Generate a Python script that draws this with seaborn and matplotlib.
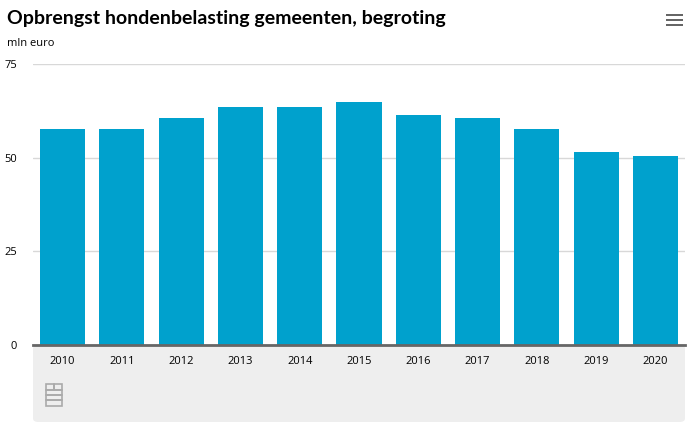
import matplotlib
matplotlib.use("Agg")
import matplotlib.pyplot as plt
import seaborn as sns
import pandas as pd
from matplotlib.patches import FancyBboxPatch, Rectangle

# data
years = ["2010", "2011", "2012", "2013", "2014", "2015", "2016", "2017", "2018", "2019", "2020"]
revenue = [57.8, 57.8, 60.7, 63.6, 63.6, 64.9, 61.5, 60.7, 57.8, 51.7, 50.6]
y_ticks = [0, 25, 50, 75]

df = pd.DataFrame({"jaar": years, "opbrengst": revenue})

sns.set_style("white")
plt.rcParams["font.family"] = ["Open Sans", "DejaVu Sans"]

W, H = 693, 447
fig = plt.figure(figsize=(W / 100, H / 100), dpi=100)

# grey footer panel under the axis
panel = FancyBboxPatch((33 / W, (H - 422) / H), (685 - 33) / W, (422 - 345) / H,
                       boxstyle="round,pad=0,rounding_size=0.008",
                       transform=fig.transFigure, facecolor="#eeeeee",
                       edgecolor="none", zorder=-1)
fig.patches.append(panel)

ax = fig.add_axes([33 / W, (H - 345) / H, (685 - 33) / W, (345 - 64.3) / H])
ax.set_facecolor("none")
ax.set_zorder(2)

sns.barplot(data=df, x="jaar", y="opbrengst", color="#00a1cd", width=0.76,
            saturation=1, edgecolor="#00a1cd", linewidth=0, ax=ax, zorder=3)

ax.set_ylim(0, 75)
ax.set_xlim(-0.5, len(years) - 0.5)
ax.set_yticks(y_ticks)
ax.set_yticklabels([str(t) for t in y_ticks], fontsize=8, color="#000000")
ax.tick_params(axis="y", length=0, pad=11.5)
ax.tick_params(axis="x", length=0, pad=8, labelsize=8, labelcolor="#000000")
ax.set_xlabel("")
ax.set_ylabel("")
ax.yaxis.grid(True, color="#d8d8d8", linewidth=1)
ax.set_axisbelow(True)
for s in ["top", "right", "left"]:
    ax.spines[s].set_visible(False)
ax.spines["bottom"].set_color("#666666")
ax.spines["bottom"].set_linewidth(2)
ax.spines["bottom"].set_zorder(5)

fig.text(7 / W, 1 - 24 / H, "Opbrengst hondenbelasting gemeenten, begroting",
         fontsize=14, fontweight="bold", color="#000000", va="baseline",
         family=["Lato", "DejaVu Sans"])
fig.text(7 / W, 1 - 46 / H, "mln euro", fontsize=8, color="#000000", va="baseline")

# menu icon
for yy in [15, 20, 25]:
    fig.patches.append(Rectangle((666 / W, 1 - (yy + 1) / H), 17 / W, 2.2 / H,
                                 transform=fig.transFigure, facecolor="#666666",
                                 edgecolor="none"))

# small logo mark in the footer
logo = [(46, 384, 8, 6), (54, 384, 8, 6), (46, 390, 16, 5), (46, 395, 16, 5), (46, 400, 16, 6)]
for lx, ly, lw, lh in logo:
    fig.patches.append(Rectangle((lx / W, 1 - (ly + lh) / H), lw / W, lh / H,
                                 transform=fig.transFigure, facecolor="none",
                                 edgecolor="#aaaaaa", linewidth=1.2))

fig.savefig("out.png", dpi=100)
